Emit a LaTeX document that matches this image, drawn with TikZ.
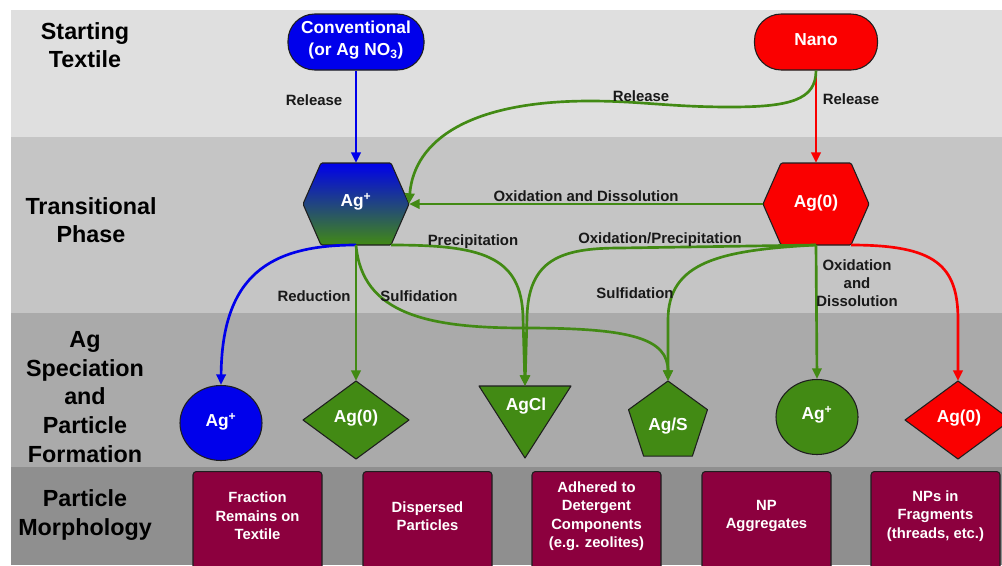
\documentclass[tikz,border=0pt]{standalone}
\usepackage{fontspec}
\setmainfont{Liberation Sans}
\usetikzlibrary{shapes.geometric,arrows.meta}
\definecolor{cblue}{RGB}{0,0,235}
\definecolor{cred}{RGB}{250,0,0}
\definecolor{cgreen}{RGB}{66,138,20}
\definecolor{cmid}{RGB}{35,85,85}
\definecolor{cmaroon}{RGB}{140,0,62}
\definecolor{bandA}{RGB}{223,223,223}
\definecolor{bandB}{RGB}{197,197,197}
\definecolor{bandC}{RGB}{170,170,170}
\definecolor{bandD}{RGB}{143,143,143}
\definecolor{outl}{RGB}{30,30,30}
\definecolor{lbltext}{RGB}{25,25,25}
\begin{document}
\begin{tikzpicture}[x=0.75pt,y=-0.75pt,
  rowlabel/.style={font=\fontsize{17.5}{21.5}\selectfont\bfseries, align=center, text=black, inner sep=0pt},
  lbl/.style={font=\fontsize{11.2}{13.5}\selectfont\bfseries, text=lbltext, align=center, inner sep=0pt},
  ntext/.style={font=\fontsize{13}{16}\selectfont\bfseries, text=white, align=center, inner sep=0pt},
  btext/.style={font=\fontsize{11.1}{13.9}\selectfont\bfseries, text=white, align=center, inner sep=0pt},
  shp/.style={draw=outl, line width=0.8pt, line join=round},
  stadium/.style={shp, rectangle, rounded corners=20pt, minimum height=42pt, inner sep=0pt},
  bubble/.style={shp, ellipse, minimum width=61.5pt, minimum height=56.25pt, inner sep=0pt},
  mbox/.style={shp, fill=cmaroon, rectangle, rounded corners=2.5pt, minimum width=96.75pt, minimum height=82.5pt, anchor=north},
  conn/.style={line width=2pt, -{Triangle[length=8pt,width=7pt]}},
]
\useasboundingbox (0,0) rectangle (1002,565);
\clip (0,0) rectangle (1002,565);
% bands
\fill[white] (0,0) rectangle (1002,565);
\fill[bandA] (11,10) rectangle (1002,137);
\fill[bandB] (11,137) rectangle (1002,313);
\fill[bandC] (11,313) rectangle (1002,467);
\fill[bandD] (11,467) rectangle (1002,565);

% row labels
\node[rowlabel] (r1) at (85,45) {Starting\\Textile};
\node[rowlabel] (r2) at (91,220) {Transitional\\Phase};
\node[rowlabel] (r3) at (85,397) {Ag\\Speciation\\and\\Particle\\Formation};
\node[rowlabel] (r4) at (85,515) {Particle\\Morphology};

% starting nodes
\node[stadium, fill=cblue, minimum width=102pt] (conv) at (356,42) {};
\node[ntext] (convt) at (356,40) {Conventional\\(or Ag NO\textsubscript{3})};
\node[stadium, fill=cred, minimum width=92.25pt] (nano) at (816,42) {};
\node[ntext] (nanot) at (816,40) {Nano};

% hexagons
\shade[shp, top color=cblue, middle color=cmid, bottom color=cgreen, rounded corners=1pt]
  (303,204) -- (321,163) -- (391,163) -- (409,204) -- (391,245) -- (321,245) -- cycle;
\coordinate (agpT) at (356,163);
\coordinate (agpR) at (409,204);
\coordinate (agpB) at (356,245);
\coordinate (agpBR) at (391,245);
\node[ntext] (agp) at (356,202) {Ag\textsuperscript{+}};

\filldraw[shp, fill=cred, rounded corners=1pt]
  (763,204) -- (781,163) -- (851,163) -- (869,204) -- (851,245) -- (781,245) -- cycle;
\coordinate (ag0T) at (816,163);
\coordinate (ag0L) at (763,204);
\coordinate (ag0B) at (816,245);
\coordinate (ag0BR) at (851,245);
\node[ntext] (ag0) at (816,203) {Ag(0)};

% bottom shapes
\node[bubble, fill=cblue] (bc) at (221,423) {};
\node[ntext] (bct) at (221,422) {Ag\textsuperscript{+}};

\filldraw[shp, fill=cgreen] (303,420) -- (356,381) -- (409,420) -- (356,459) -- cycle;
\coordinate (dgT) at (356,381);
\node[ntext] (dgt) at (356,418) {Ag(0)};

\filldraw[shp, fill=cgreen] (479,386) -- (571,386) -- (525,458) -- cycle;
\coordinate (aglT) at (525,386);
\node[ntext] (aglt) at (526,406) {AgCl};

\node[shp, fill=cgreen, regular polygon, regular polygon sides=5, minimum size=62.25pt, inner sep=0pt, outer sep=0pt] (pent) at (668,422.5) {};
\node[ntext] (pentt) at (668,426) {Ag/S};

\node[bubble, fill=cgreen] (gc) at (817,417) {};
\node[ntext] (gct) at (817,415) {Ag\textsuperscript{+}};

\filldraw[shp, fill=cred] (905,420) -- (958,381) -- (1011,420) -- (958,459) -- cycle;
\coordinate (rdT) at (958,381);
\node[ntext] (rdt) at (959,418) {Ag(0)};

% morphology boxes
\node[mbox] (b1) at (257.5,471) {};
\node[mbox] (b2) at (427.5,471) {};
\node[mbox] (b3) at (596.5,471) {};
\node[mbox] (b4) at (766.5,471) {};
\node[mbox] (b5) at (935.5,471) {};
\node[btext] (b1t) at (257.5,516) {Fraction\\Remains on\\Textile};
\node[btext] (b2t) at (427.5,516) {Dispersed\\Particles};
\node[btext] (b3t) at (596.5,516) {Adhered to\\Detergent\\Components\\(e.g. zeolites)};
\node[btext] (b4t) at (766.5,516) {NP\\Aggregates};
\node[btext] (b5t) at (935.5,516) {NPs in\\Fragments\\(threads, etc.)};

% connectors
\draw[conn, cblue] (conv.south) -- (agpT);
\draw[conn, cred] (nano.south) -- (ag0T);
\draw[conn, cgreen] (nano.south) .. controls (816,100) and (790,107) .. (730,107)
   .. controls (670,107) and (640,101) .. (590,101)
   .. controls (470,101) and (414,140) .. (agpR);
\draw[conn, cgreen] (ag0L) -- (agpR);

\draw[conn, cblue] (agpB) .. controls (270,245) and (222,275) .. (bc.north);
\draw[conn, cgreen] (agpB) -- (dgT);
\draw[conn, cgreen] (agpB) .. controls (362,315) and (430,328) .. (525,328)
   .. controls (630,328) and (668,338) .. (pent.corner 1);
\draw[conn, cgreen] (agpBR) .. controls (480,245) and (522,255) .. (523,318) -- (aglT);
\draw[conn, cgreen] (ag0B) -- (620,248) .. controls (560,248) and (528,260) .. (527,318) -- (aglT);
\draw[conn, cgreen] (ag0B) .. controls (720,250) and (668,262) .. (668,320) -- (pent.corner 1);
\draw[conn, cgreen] (ag0B) -- (gc.north);
\draw[conn, cred] (ag0BR) .. controls (935,245) and (958,265) .. (958,320) -- (rdT);

% connector labels
\node[lbl] (l1) at (314,100) {Release};
\node[lbl] (l2) at (641,96) {Release};
\node[lbl] (l3) at (851,99) {Release};
\node[lbl] (l4) at (586,196) {Oxidation and Dissolution};
\node[lbl] (l5) at (473,242) {Precipitation};
\node[lbl] (l6) at (660,240) {Oxidation/Precipitation};
\node[lbl] (l7) at (314,296) {Reduction};
\node[lbl] (l8) at (419,296) {Sulfidation};
\node[lbl] (l9) at (635,293) {Sulfidation};
\node[lbl] (l10) at (857,283) {Oxidation\\and\\Dissolution};
\end{tikzpicture}
\end{document}
